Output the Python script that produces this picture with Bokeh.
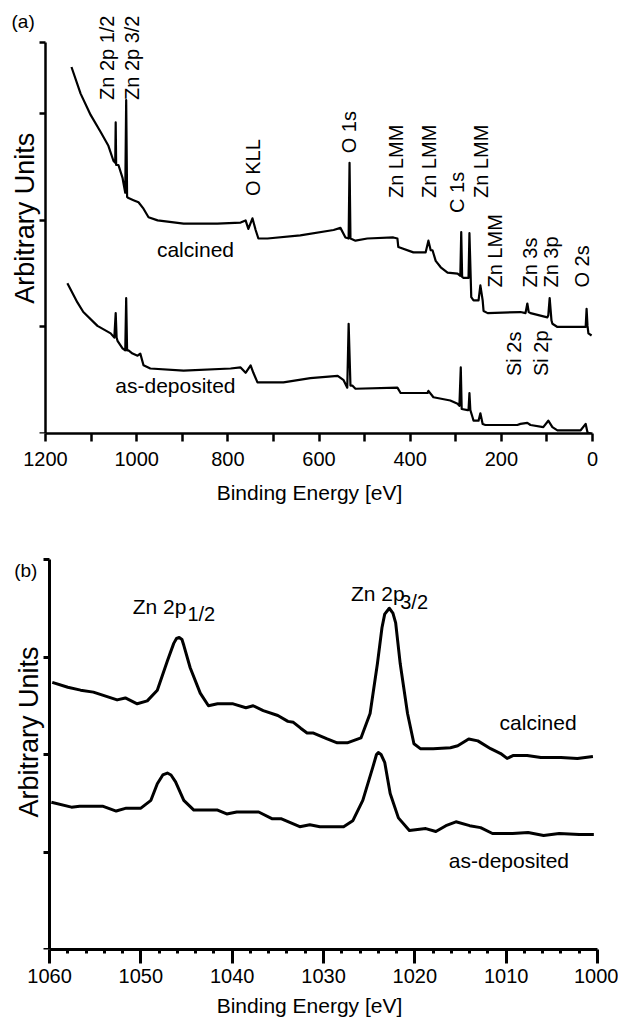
import math
from bokeh.plotting import figure
from bokeh.layouts import column
from bokeh.models import Range1d, FixedTicker, Label, CustomLabelingPolicy
from bokeh.embed import file_html
from bokeh.resources import INLINE

FONT = "Liberation Sans"

# ---------------- Panel (a): survey spectra ----------------
survey_calcined_be = [1143, 1123, 1101, 1079, 1062, 1051, 1047, 1046, 1045, 1040, 1031, 1029, 1025, 1023, 1021,
                      1018, 1007, 996, 985, 974, 954, 897, 823, 772, 761, 755, 746, 739, 733, 713, 641, 568,
                      553, 542, 535, 533, 531, 520, 494, 437, 428, 426, 393, 366, 360, 355, 351, 344, 333, 318,
                      296, 290, 288, 286, 283, 274, 272, 270, 266, 261, 250, 246, 241, 239, 230, 158, 147, 143,
                      140, 136, 99, 97, 94, 90, 88, 77, 20, 15, 13, 11, 9, 2]
survey_calcined_int = [3.44, 3.19, 2.99, 2.83, 2.70, 2.56, 2.54, 2.92, 2.52, 2.52, 2.40, 2.35, 2.26, 3.13, 2.22,
                       2.21, 2.19, 2.17, 2.11, 2.03, 2.00, 1.97, 1.97, 1.98, 2.00, 1.92, 2.02, 1.91, 1.83, 1.83,
                       1.86, 1.91, 1.93, 1.84, 1.83, 2.54, 1.83, 1.81, 1.83, 1.84, 1.83, 1.75, 1.70, 1.70, 1.81,
                       1.72, 1.72, 1.62, 1.56, 1.51, 1.50, 1.48, 1.89, 1.47, 1.46, 1.46, 1.46, 1.88, 1.28, 1.25,
                       1.25, 1.39, 1.25, 1.15, 1.13, 1.14, 1.13, 1.22, 1.14, 1.13, 1.09, 1.11, 1.27, 1.06, 1.03,
                       1.00, 1.00, 1.00, 1.17, 1.01, 0.94, 0.92]

survey_asdep_be = [1152, 1130, 1117, 1086, 1057, 1049, 1046, 1044, 1042, 1031, 1025, 1023, 1021, 1018, 1009, 998,
                   992, 985, 970, 897, 794, 772, 761, 750, 744, 735, 678, 619, 559, 546, 538, 535, 531, 527, 520,
                   428, 421, 362, 360, 349, 312, 296, 292, 289, 287, 274, 272, 270, 268, 263, 261, 250, 246, 241,
                   235, 165, 158, 143, 136, 108, 97, 88, 77, 26, 15, 11, 4]
survey_asdep_int = [1.41, 1.23, 1.14, 1.01, 0.94, 0.90, 1.13, 0.90, 0.87, 0.80, 0.78, 1.27, 0.78, 0.78, 0.75, 0.73,
                    0.75, 0.64, 0.61, 0.59, 0.61, 0.62, 0.57, 0.64, 0.57, 0.48, 0.48, 0.52, 0.54, 0.50, 0.43, 1.03,
                    0.45, 0.45, 0.42, 0.43, 0.38, 0.38, 0.40, 0.34, 0.31, 0.28, 0.26, 0.62, 0.23, 0.22, 0.22, 0.38,
                    0.22, 0.15, 0.12, 0.12, 0.19, 0.09, 0.08, 0.08, 0.09, 0.10, 0.08, 0.06, 0.12, 0.06, 0.03, 0.03,
                    0.09, 0.01, 0.00]

survey_peak_labels = ["Zn 2p 1/2", "Zn 2p 3/2", "O KLL", "O 1s", "Zn LMM", "Zn LMM", "C 1s", "Zn LMM",
                      "Zn LMM", "Zn 3s", "Zn 3p", "O 2s", "Si 2s", "Si 2p"]
survey_peak_be = [1066, 1011, 744, 535, 432, 358, 298, 244, 213, 138, 90, 24, 173, 114]
survey_peak_base = [3.13, 3.13, 2.23, 2.63, 2.21, 2.21, 2.07, 2.21, 1.37, 1.37, 1.37, 1.37, 0.54, 0.54]

survey_x_ticks = [0, 200, 400, 600, 800, 1000, 1200]
survey_x_minor = [100, 300, 500, 700, 900, 1100]
survey_y_ticks = [0, 1, 2, 3, 3.67]

# ---------------- Panel (b): Zn 2p region ----------------
zn_calcined_be = [1059.7, 1058.0, 1056.6, 1055.2, 1052.6, 1051.7, 1050.4, 1049.3, 1048.2, 1047.1, 1046.4, 1046.1,
                  1045.8, 1045.5, 1045.3, 1044.6, 1043.5, 1042.6, 1041.6, 1039.9, 1038.5, 1037.7, 1036.6, 1035.0,
                  1033.9, 1033.3, 1032.5, 1031.8, 1031.1, 1029.6, 1028.5, 1027.4, 1025.9, 1024.9, 1024.1, 1023.6,
                  1023.3, 1022.8, 1022.4, 1022.1, 1021.6, 1020.8, 1020.1, 1019.4, 1018.0, 1016.1, 1015.3, 1014.1,
                  1013.1, 1011.7, 1010.6, 1009.9, 1009.2, 1007.7, 1006.2, 1004.0, 1002.2, 1000.5]
zn_calcined_int = [2.74, 2.69, 2.66, 2.64, 2.56, 2.58, 2.52, 2.55, 2.66, 2.96, 3.14, 3.19, 3.20, 3.18, 3.12, 2.89,
                   2.63, 2.50, 2.52, 2.52, 2.48, 2.50, 2.45, 2.40, 2.34, 2.33, 2.27, 2.22, 2.22, 2.16, 2.12, 2.12,
                   2.17, 2.42, 2.93, 3.30, 3.44, 3.50, 3.45, 3.35, 2.93, 2.42, 2.11, 2.06, 2.06, 2.07, 2.09, 2.16,
                   2.14, 2.06, 2.01, 1.96, 1.99, 1.99, 1.97, 1.97, 1.96, 1.98]

zn_asdep_be = [1059.8, 1057.6, 1056.7, 1054.2, 1052.7, 1051.6, 1050.0, 1048.9, 1048.2, 1047.6, 1047.1, 1046.7,
               1046.2, 1045.3, 1044.2, 1041.6, 1040.6, 1039.5, 1037.1, 1035.6, 1034.6, 1032.6, 1031.5, 1030.4,
               1027.8, 1026.8, 1025.7, 1024.6, 1024.2, 1024.0, 1023.7, 1023.3, 1022.7, 1021.8, 1020.6, 1018.8,
               1017.7, 1016.6, 1015.5, 1014.0, 1012.8, 1011.5, 1009.3, 1007.6, 1005.9, 1004.2, 1002.0, 1000.4]
zn_asdep_int = [1.51, 1.46, 1.47, 1.47, 1.42, 1.45, 1.45, 1.53, 1.70, 1.79, 1.81, 1.79, 1.72, 1.53, 1.43, 1.43,
                1.39, 1.41, 1.41, 1.34, 1.34, 1.26, 1.28, 1.26, 1.26, 1.32, 1.53, 1.87, 2.00, 2.02, 2.00, 1.92,
                1.60, 1.35, 1.22, 1.24, 1.21, 1.27, 1.31, 1.27, 1.25, 1.19, 1.19, 1.20, 1.17, 1.19, 1.18, 1.18]

zn_x_ticks = [1000, 1010, 1020, 1030, 1040, 1050, 1060]
zn_x_minor = [1002, 1004, 1006, 1008, 1012, 1014, 1016, 1018, 1022, 1024, 1026, 1028, 1032, 1034, 1036, 1038,
              1042, 1044, 1046, 1048, 1052, 1054, 1056, 1058]
zn_y_ticks = [0, 1, 2, 3, 4]


def style_axes(p, xticks, xminor, xbounds, yticks, ybounds, yfixed, line_w, major_out, minor_out,
               lab_standoff, title_standoff):
    p.xgrid.visible = False
    p.ygrid.visible = False
    p.outline_line_color = None
    p.background_fill_color = "white"
    p.border_fill_color = "white"
    xa = p.xaxis[0]
    xa.ticker = FixedTicker(ticks=xticks, minor_ticks=xminor)
    xa.bounds = xbounds
    xa.axis_line_width = line_w
    xa.major_tick_line_width = line_w
    xa.minor_tick_line_width = line_w
    xa.major_tick_out = major_out
    xa.major_tick_in = 0
    xa.minor_tick_out = minor_out
    xa.minor_tick_in = 0
    xa.major_label_text_font = FONT
    xa.major_label_text_font_size = "20px"
    xa.major_label_text_color = "black"
    xa.major_label_standoff = lab_standoff
    xa.axis_label = "Binding Energy [eV]"
    xa.axis_label_text_font = FONT
    xa.axis_label_text_font_size = "21px"
    xa.axis_label_text_font_style = "normal"
    xa.axis_label_text_color = "black"
    xa.axis_label_standoff = title_standoff
    ya = p.yaxis[0]
    ya.ticker = FixedTicker(ticks=yticks, minor_ticks=[])
    ya.bounds = ybounds
    ya.fixed_location = yfixed
    ya.axis_line_width = line_w
    ya.major_tick_line_width = line_w
    ya.major_tick_out = 6
    ya.major_tick_in = 0
    ya.minor_tick_out = 0
    ya.minor_tick_in = 0
    ya.major_label_policy = CustomLabelingPolicy(code="return []")


# ---------------- figure (a) ----------------
# frame spans the whole width; axis at 1200 eV sits 45 px from the left, 0 eV at 592 px
pa = figure(width=618, height=509, x_range=Range1d(1298.7, -57.0), y_range=Range1d(0, 4.064),
            output_backend="svg", toolbar_location=None,
            min_border_left=0, min_border_right=0, min_border_top=0, min_border_bottom=76)
style_axes(pa, survey_x_ticks, survey_x_minor, (0, 1200), survey_y_ticks, (0, 3.67), 1200,
           2.5, 8, 8, 10, 12)
pa.line(survey_calcined_be, survey_calcined_int, line_color="black", line_width=2.2, line_join="round")
pa.line(survey_asdep_be, survey_asdep_int, line_color="black", line_width=2.2, line_join="round")
for t, xb, yb in zip(survey_peak_labels, survey_peak_be, survey_peak_base):
    pa.add_layout(Label(x=xb, y=yb, text=t, angle=math.pi / 2, text_align="left", text_baseline="middle",
                        text_font=FONT, text_font_size="20px", text_color="black"))
pa.add_layout(Label(x=871, y=1.73, text="calcined", text_align="center", text_baseline="middle",
                    text_font=FONT, text_font_size="21px", text_color="black"))
pa.add_layout(Label(x=915, y=0.45, text="as-deposited", text_align="center", text_baseline="middle",
                    text_font=FONT, text_font_size="21px", text_color="black"))
pa.add_layout(Label(x=1244, y=2.02, text="Arbitrary Units", angle=math.pi / 2, text_align="center",
                    text_baseline="middle", text_font=FONT, text_font_size="27px", text_color="black"))
pa.add_layout(Label(x=1249, y=3.87, text="(a)", text_align="center", text_baseline="middle",
                    text_font=FONT, text_font_size="19px", text_color="black"))

# ---------------- figure (b) ----------------
# axis at 1060 eV sits 49 px from the left, 1000 eV at 597 px
pb = figure(width=618, height=519, x_range=Range1d(1065.37, 997.70), y_range=Range1d(0, 4.513),
            output_backend="svg", toolbar_location=None,
            min_border_left=0, min_border_right=0, min_border_top=0, min_border_bottom=79)
style_axes(pb, zn_x_ticks, zn_x_minor, (1000, 1060), zn_y_ticks, (0, 4), 1060,
           3, 14, 4, 5, 8)
pb.line(zn_calcined_be, zn_calcined_int, line_color="black", line_width=3, line_join="round")
pb.line(zn_asdep_be, zn_asdep_int, line_color="black", line_width=3, line_join="round")
pb.add_layout(Label(x=1006.5, y=2.33, text="calcined", text_align="center", text_baseline="middle",
                    text_font=FONT, text_font_size="21px", text_color="black"))
pb.add_layout(Label(x=1009.7, y=0.91, text="as-deposited", text_align="center", text_baseline="middle",
                    text_font=FONT, text_font_size="21px", text_color="black"))
pb.add_layout(Label(x=1050.9, y=3.52, text="Zn 2p", text_align="left", text_baseline="alphabetic",
                    text_font=FONT, text_font_size="21px", text_color="black"))
pb.add_layout(Label(x=1044.9, y=3.44, text="1/2", text_align="left", text_baseline="alphabetic",
                    text_font=FONT, text_font_size="20px", text_color="black"))
pb.add_layout(Label(x=1027.0, y=3.65, text="Zn 2p", text_align="left", text_baseline="alphabetic",
                    text_font=FONT, text_font_size="21px", text_color="black"))
pb.add_layout(Label(x=1021.6, y=3.56, text="3/2", text_align="left", text_baseline="alphabetic",
                    text_font=FONT, text_font_size="20px", text_color="black"))
pb.add_layout(Label(x=1062.3, y=2.23, text="Arbitrary Units", angle=math.pi / 2, text_align="center",
                    text_baseline="middle", text_font=FONT, text_font_size="27px", text_color="black"))
pb.add_layout(Label(x=1062.6, y=3.89, text="(b)", text_align="center", text_baseline="middle",
                    text_font=FONT, text_font_size="19px", text_color="black"))

layout = column(pa, pb, spacing=0)
open("out.html", "w").write(file_html(layout, INLINE))
